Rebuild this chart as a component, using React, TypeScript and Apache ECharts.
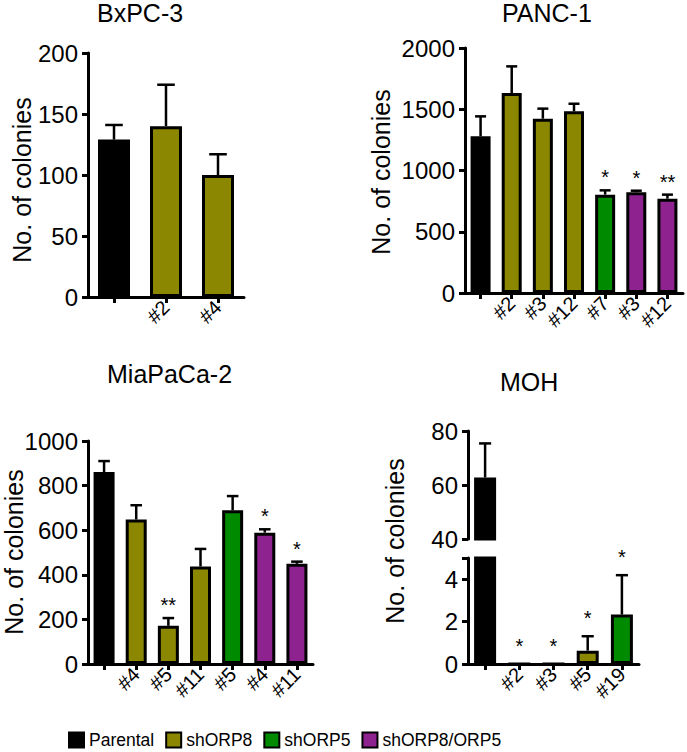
import React, { useEffect, useRef } from 'react';
import * as echarts from 'echarts';

const FONT = '"Liberation Sans", Arial, Helvetica, sans-serif';

// ---- data ----
const groupNames = ['Parental', 'shORP8', 'shORP5', 'shORP8/ORP5'];

const bxpcCategories = ['', '#2', '#4'];
const bxpcGroups = ['Parental', 'shORP8', 'shORP8'];
const bxpcValues = [129, 140, 100];
const bxpcErrors = [12, 34, 17];
const bxpcStars = ['', '', ''];
const bxpcYTicks = [0, 50, 100, 150, 200];

const pancCategories = ['', '#2', '#3', '#12', '#7', '#3', '#12'];
const pancGroups = ['Parental', 'shORP8', 'shORP8', 'shORP8', 'shORP5', 'shORP8/ORP5', 'shORP8/ORP5'];
const pancValues = [1279, 1633, 1423, 1483, 803, 822, 770];
const pancErrors = [163, 217, 82, 62, 35, 13, 33];
const pancStars = ['', '', '', '', '*', '*', '**'];
const pancYTicks = [0, 500, 1000, 1500, 2000];

const miaCategories = ['', '#4', '#5', '#11', '#5', '#4', '#11'];
const miaGroups = ['Parental', 'shORP8', 'shORP8', 'shORP8', 'shORP5', 'shORP8/ORP5', 'shORP8/ORP5'];
const miaValues = [861, 648, 171, 437, 689, 589, 449];
const miaErrors = [49, 64, 35, 79, 64, 15, 10];
const miaStars = ['', '', '**', '', '', '*', '*'];
const miaYTicks = [0, 200, 400, 600, 800, 1000];

const mohCategories = ['', '#2', '#3', '#5', '#19'];
const mohGroups = ['Parental', 'shORP8', 'shORP8', 'shORP8', 'shORP5'];
const mohValues = [62.8, 0, 0, 0.63, 2.33];
const mohErrors = [12.6, 0, 0, 0.68, 1.86];
const mohStars = ['', '*', '*', '*', '*'];
const mohUpperYTicks = [40, 60, 80];
const mohLowerYTicks = [0, 2, 4];
const mohLowerMax = 5;

// ---- styles ----
const groupColors: Record<string, string> = {
  Parental: '#000000',
  shORP8: '#8B8700',
  shORP5: '#008A00',
  'shORP8/ORP5': '#8E2390',
};

type GridDef = {
  rect: { left: number; top: number; width: number; height: number };
  ticks: number[];
  max?: number;
  showX: boolean;
  keepBar: (v: number) => boolean;
  keepErr: (v: number) => boolean;
};

type Panel = {
  title: string;
  titleLeft: number;
  titleTop: number;
  name: [number, number];
  cats: string[];
  groups: string[];
  values: number[];
  errors: number[];
  stars: string[];
  barWidth: number;
  starGap: number;
  grids: GridDef[];
};

const all = () => true;

const panels: Panel[] = [
  {
    title: 'BxPC-3', titleLeft: 97, titleTop: 0, name: [22, 180],
    cats: bxpcCategories, groups: bxpcGroups, values: bxpcValues, errors: bxpcErrors, stars: bxpcStars,
    barWidth: 32, starGap: 3,
    grids: [{ rect: { left: 88, top: 53, width: 156, height: 244 }, ticks: bxpcYTicks, showX: true, keepBar: all, keepErr: all }],
  },
  {
    title: 'PANC-1', titleLeft: 502, titleTop: 0, name: [381, 172],
    cats: pancCategories, groups: pancGroups, values: pancValues, errors: pancErrors, stars: pancStars,
    barWidth: 20, starGap: 3,
    grids: [{ rect: { left: 465, top: 48, width: 218, height: 245 }, ticks: pancYTicks, showX: true, keepBar: all, keepErr: all }],
  },
  {
    title: 'MiaPaCa-2', titleLeft: 107, titleTop: 361, name: [14, 552],
    cats: miaCategories, groups: miaGroups, values: miaValues, errors: miaErrors, stars: miaStars,
    barWidth: 21, starGap: 3,
    grids: [{ rect: { left: 88, top: 441, width: 225, height: 223 }, ticks: miaYTicks, showX: true, keepBar: all, keepErr: all }],
  },
  {
    title: 'MOH', titleLeft: 500, titleTop: 369, name: [395, 541],
    cats: mohCategories, groups: mohGroups, values: mohValues, errors: mohErrors, stars: mohStars,
    barWidth: 22, starGap: 8,
    grids: [
      {
        rect: { left: 468, top: 431, width: 171, height: 108 }, ticks: mohUpperYTicks, showX: false,
        keepBar: (v) => v > mohUpperYTicks[0], keepErr: (v) => v > mohUpperYTicks[0],
      },
      {
        rect: { left: 468, top: 558, width: 171, height: 106 }, ticks: mohLowerYTicks, max: mohLowerMax, showX: true,
        keepBar: all, keepErr: (v) => v <= mohLowerMax,
      },
    ],
  },
];

function buildOption() {
  const grid: any[] = [];
  const xAxis: any[] = [];
  const yAxis: any[] = [];
  const series: any[] = [];
  const graphic: any[] = [];
  const title: any[] = [];

  panels.forEach((p) => {
    title.push({
      text: p.title, left: p.titleLeft, top: p.titleTop, padding: 0,
      textStyle: { fontSize: 25, fontWeight: 'normal', color: '#000', fontFamily: FONT },
    });
    graphic.push({
      type: 'text', x: p.name[0], y: p.name[1], rotation: Math.PI / 2,
      style: { text: 'No. of colonies', fill: '#000', fontSize: 25, fontFamily: FONT, align: 'center', verticalAlign: 'middle' },
    });

    p.grids.forEach((g) => {
      const gi = grid.length;
      grid.push({ ...g.rect, containLabel: false, outerBoundsMode: 'none' });
      const ticks = g.ticks;
      const interval = ticks[1] - ticks[0];
      const max = g.max !== undefined ? g.max : ticks[ticks.length - 1];
      xAxis.push({
        type: 'category', gridIndex: gi, data: p.cats, show: g.showX,
        axisLine: { show: true, onZero: false, lineStyle: { color: '#000', width: 3 } },
        axisTick: { show: true, alignWithLabel: true, length: 6, lineStyle: { color: '#000', width: 3 } },
        axisLabel: { rotate: 45, interval: 0, fontSize: 20, color: '#000', margin: 7, fontFamily: FONT },
        splitLine: { show: false },
      });
      yAxis.push({
        type: 'value', gridIndex: gi, min: ticks[0], max, interval,
        axisLine: { show: true, lineStyle: { color: '#000', width: 3 } },
        axisTick: { show: true, length: 6, lineStyle: { color: '#000', width: 3 } },
        axisLabel: {
          fontSize: 24, color: '#000', margin: 10, fontFamily: FONT,
          formatter: (v: number) => (ticks.indexOf(v) >= 0 ? String(v) : ''),
        },
        splitLine: { show: false },
      });

      groupNames.forEach((gn) => {
        if (p.groups.indexOf(gn) < 0) return;
        series.push({
          type: 'bar', name: gn, xAxisIndex: gi, yAxisIndex: gi,
          data: p.values.map((v, k) => (p.groups[k] === gn && g.keepBar(v) ? v : '-')),
          barWidth: p.barWidth, barGap: '-100%',
          itemStyle: { color: groupColors[gn], borderColor: '#000', borderWidth: 3 },
          emphasis: { disabled: true },
          silent: true,
        });
      });

      const errData: number[][] = [];
      p.values.forEach((v, k) => {
        if (g.keepErr(v)) errData.push([k, v, v + p.errors[k]]);
      });
      const cap = p.barWidth * 0.55;
      const stars = p.stars;
      const gap = p.starGap;
      series.push({
        type: 'custom', xAxisIndex: gi, yAxisIndex: gi, z: 5, silent: true,
        data: errData,
        renderItem: (_params: any, api: any) => {
          const k = api.value(0);
          const top = api.coord([k, api.value(1)]);
          const err = api.coord([k, api.value(2)]);
          const children: any[] = [];
          if (api.value(2) > api.value(1)) {
            children.push({ type: 'line', shape: { x1: top[0], y1: top[1], x2: err[0], y2: err[1] }, style: { stroke: '#000', lineWidth: 2.5 } });
            children.push({ type: 'line', shape: { x1: err[0] - cap / 2, y1: err[1], x2: err[0] + cap / 2, y2: err[1] }, style: { stroke: '#000', lineWidth: 2.5 } });
          }
          const s = stars[k];
          if (s) {
            children.push({
              type: 'text', x: err[0], y: err[1] - gap,
              style: { text: s, fill: '#000', fontSize: 20, fontFamily: FONT, align: 'center', verticalAlign: 'bottom' },
            });
          }
          return { type: 'group', children };
        },
      });
    });
  });

  return {
    animation: false,
    backgroundColor: '#ffffff',
    textStyle: { fontFamily: FONT },
    title,
    legend: {
      data: groupNames, left: 68, top: 731, padding: 0,
      itemWidth: 15, itemHeight: 15, itemGap: 11, icon: 'rect', selectedMode: false,
      textStyle: { fontSize: 17.5, color: '#000', fontFamily: FONT },
      itemStyle: { borderColor: '#000', borderWidth: 2 },
    },
    grid, xAxis, yAxis, series, graphic,
  };
}

export default function App() {
  const ref = useRef<HTMLDivElement>(null);
  useEffect(() => {
    if (!ref.current) return;
    const chart = echarts.init(ref.current, undefined, { renderer: 'svg' });
    chart.setOption(buildOption() as any);
    return () => chart.dispose();
  }, []);
  return <div ref={ref} style={{ position: 'absolute', left: 0, top: 0, width: 687, height: 752, background: '#fff' }} />;
}
